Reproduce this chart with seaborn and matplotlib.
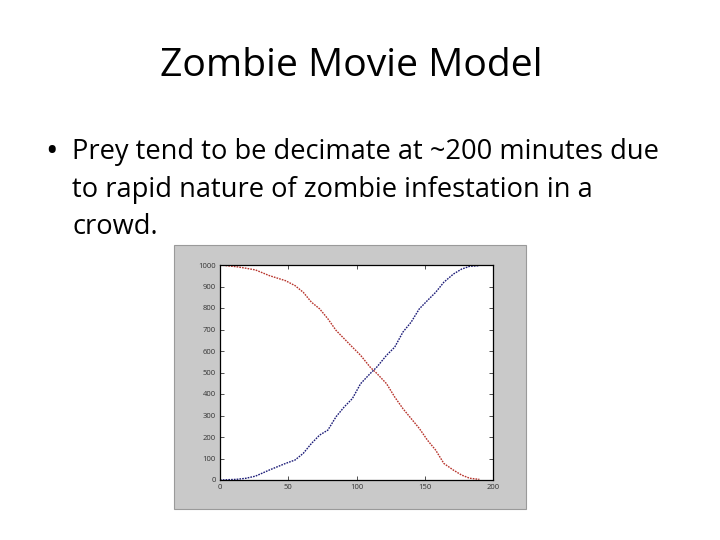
import matplotlib
matplotlib.use("Agg")
import matplotlib.pyplot as plt
from matplotlib.patches import Rectangle
import seaborn as sns
import pandas as pd

# ---- data ----
minutes = [0, 12, 19, 26, 36, 48, 55, 61, 67, 73, 79, 85, 91, 97, 103, 110,
           115, 122, 128, 134, 140, 146, 152, 158, 164, 171, 177, 183, 190]
prey = [1000, 992, 985, 977, 951, 927, 904, 873, 827, 796, 750, 696, 657, 618,
        580, 525, 495, 448, 386, 332, 286, 240, 185, 139, 77, 46, 23, 8, 3]
zombies = [0, 3, 8, 18, 46, 77, 93, 124, 170, 209, 232, 294, 340, 379, 448,
           495, 526, 580, 618, 688, 734, 796, 835, 873, 920, 958, 981, 994, 997]
x_ticks = [0, 50, 100, 150, 200]
y_ticks = [0, 100, 200, 300, 400, 500, 600, 700, 800, 900, 1000]

title_text = "Zombie Movie Model"
bullet_lines = ["Prey tend to be decimate at ~200 minutes due",
                "to rapid nature of zombie infestation in a",
                "crowd."]

sns.set_theme(style="white")
plt.rcParams["font.family"] = ["Open Sans", "DejaVu Sans"]

W, H = 720, 540
fig = plt.figure(figsize=(7.2, 5.4), dpi=100)
fig.patch.set_facecolor("white")

def fx(px):
    return px / W

def fy(py):
    return 1 - py / H

# grey MATLAB figure window
panel = Rectangle((fx(174), fy(509)), fx(526) - fx(174), fy(245) - fy(509),
                  transform=fig.transFigure, facecolor="#c9c9c9",
                  edgecolor="#9a9a9a", linewidth=0.8, zorder=-5)
fig.patches.append(panel)

ax = fig.add_axes([fx(220), fy(480), fx(493) - fx(220), fy(265) - fy(480)])
ax.set_zorder(5)
ax.set_facecolor("white")

df = pd.DataFrame({"minutes": minutes + minutes,
                   "count": prey + zombies,
                   "group": ["prey"] * len(minutes) + ["zombies"] * len(minutes)})
sns.lineplot(data=df, x="minutes", y="count", hue="group",
             palette={"prey": "#b8352d", "zombies": "#1c1c78"},
             linewidth=1.0, linestyle=(0, (1.2, 0.8)), legend=False, ax=ax)

ax.set_xlim(0, 200)
ax.set_ylim(0, 1000)
ax.set_xticks(x_ticks)
ax.set_yticks(y_ticks)
ax.set_xticklabels([str(v) for v in x_ticks])
ax.set_yticklabels([str(v) for v in y_ticks])
ax.set_xlabel("")
ax.set_ylabel("")
ax.tick_params(direction="in", length=3, width=0.6, top=True, right=True,
               bottom=True, left=True, labelsize=5.5, colors="#333333",
               pad=3)
for sp in ax.spines.values():
    sp.set_visible(True)
    sp.set_color("black")
    sp.set_linewidth(0.9)

# slide text
fig.text(fx(351), fy(76), title_text, ha="center", va="baseline",
         fontsize=28.2, color="black")
fig.text(fx(52), fy(161), "\u2022", ha="center", va="baseline",
         fontsize=24, color="black")
for line, base in zip(bullet_lines, [159, 197, 234]):
    fig.text(fx(72), fy(base), line, ha="left", va="baseline",
             fontsize=19.6, color="black")

fig.savefig("out.png", dpi=100, facecolor="white")
